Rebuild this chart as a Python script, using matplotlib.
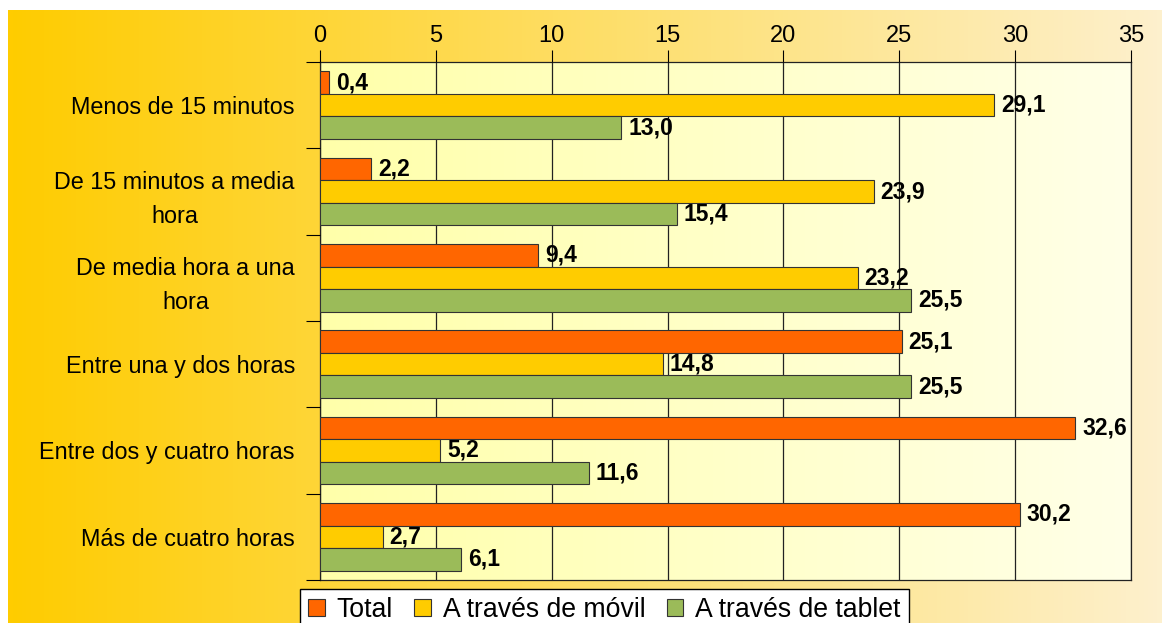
import numpy as np
import matplotlib.pyplot as plt
from matplotlib.patches import Patch

plt.rcParams['font.family'] = ['Liberation Sans', 'DejaVu Sans']

categorias = ['Menos de 15 minutos', 'De 15 minutos a media\nhora', 'De media hora a una\nhora',
              'Entre una y dos horas', 'Entre dos y cuatro horas', 'Más de cuatro horas']
total = [0.4, 2.2, 9.4, 25.1, 32.6, 30.2]
movil = [29.1, 23.9, 23.2, 14.8, 5.2, 2.7]
tablet = [13.0, 15.4, 25.5, 25.5, 11.6, 6.1]
series = ['Total', 'A través de móvil', 'A través de tablet']
colores = ['#FF6600', '#FFCC00', '#9BBB59']

W, H = 1162, 623
fig = plt.figure(figsize=(W / 100, H / 100), dpi=100)

# fondo con degradado
bg = fig.add_axes([8 / W, 0, 1 - 8 / W, 1 - 10 / H])
grad = np.linspace(0, 1, 256)
c0 = np.array([255, 204, 0]) / 255
c1 = np.array([253, 240, 205]) / 255
img = c0[None, :] * (1 - grad[:, None]) + c1[None, :] * grad[:, None]
bg.imshow(img[None, :, :], aspect='auto', extent=[0, 1, 0, 1])
bg.axis('off')

ax = fig.add_axes([320 / W, 43 / H, (1131 - 320) / W, (580 - 62) / H])
p0 = np.array([255, 255, 170]) / 255
p1 = np.array([255, 255, 232]) / 255
img2 = p0[None, :] * (1 - grad[:, None]) + p1[None, :] * grad[:, None]
ax.imshow(img2[None, :, :], aspect='auto', extent=[0, 35, 6, 0], zorder=0)

y = np.arange(len(categorias)) + 0.5
h = 0.26
for i, (vals, col) in enumerate(zip([total, movil, tablet], colores)):
    pos = y + (i - 1) * h
    ax.barh(pos, vals, height=h, color=col, edgecolor='#333333', linewidth=0.8, zorder=3)
    for p, v in zip(pos, vals):
        ax.text(v + 0.3, p, f'{v:.1f}'.replace('.', ','), va='center', ha='left',
                fontsize=16.5, fontweight='bold', zorder=4)

ax.set_xlim(0, 35)
ax.set_ylim(6, 0)
ax.xaxis.tick_top()
ax.set_xticks(range(0, 36, 5))
ax.set_yticks(np.arange(0, 7))
ax.set_yticks(y, minor=True)
ax.set_yticklabels([])
ax.set_yticklabels(categorias, minor=True, multialignment='center', linespacing=1.6)
ax.tick_params(axis='y', which='minor', length=0, pad=18, labelsize=16.8)
ax.tick_params(axis='y', which='major', length=10, direction='out')
ax.tick_params(axis='x', length=9, direction='out', labelsize=17, pad=2)
ax.grid(axis='x', color='#222222', linewidth=0.9, zorder=1)
for s in ax.spines.values():
    s.set_color('#222222')
    s.set_linewidth(0.9)
ax.set_axisbelow(False)

handles = [Patch(facecolor=c, edgecolor='#333333', linewidth=0.8) for c in colores]
leg = fig.legend(handles, series, loc='upper left', bbox_to_anchor=(300 / W, 1 - 589 / H),
                 ncol=3, fontsize=19.2, frameon=True, fancybox=False, handlelength=0.62,
                 handleheight=0.62, handletextpad=0.45, columnspacing=0.8, borderpad=0.3,
                 borderaxespad=0)
leg.get_frame().set_edgecolor('black')
leg.get_frame().set_facecolor('white')
leg.get_frame().set_alpha(1)

fig.savefig('out.png', dpi=100)
